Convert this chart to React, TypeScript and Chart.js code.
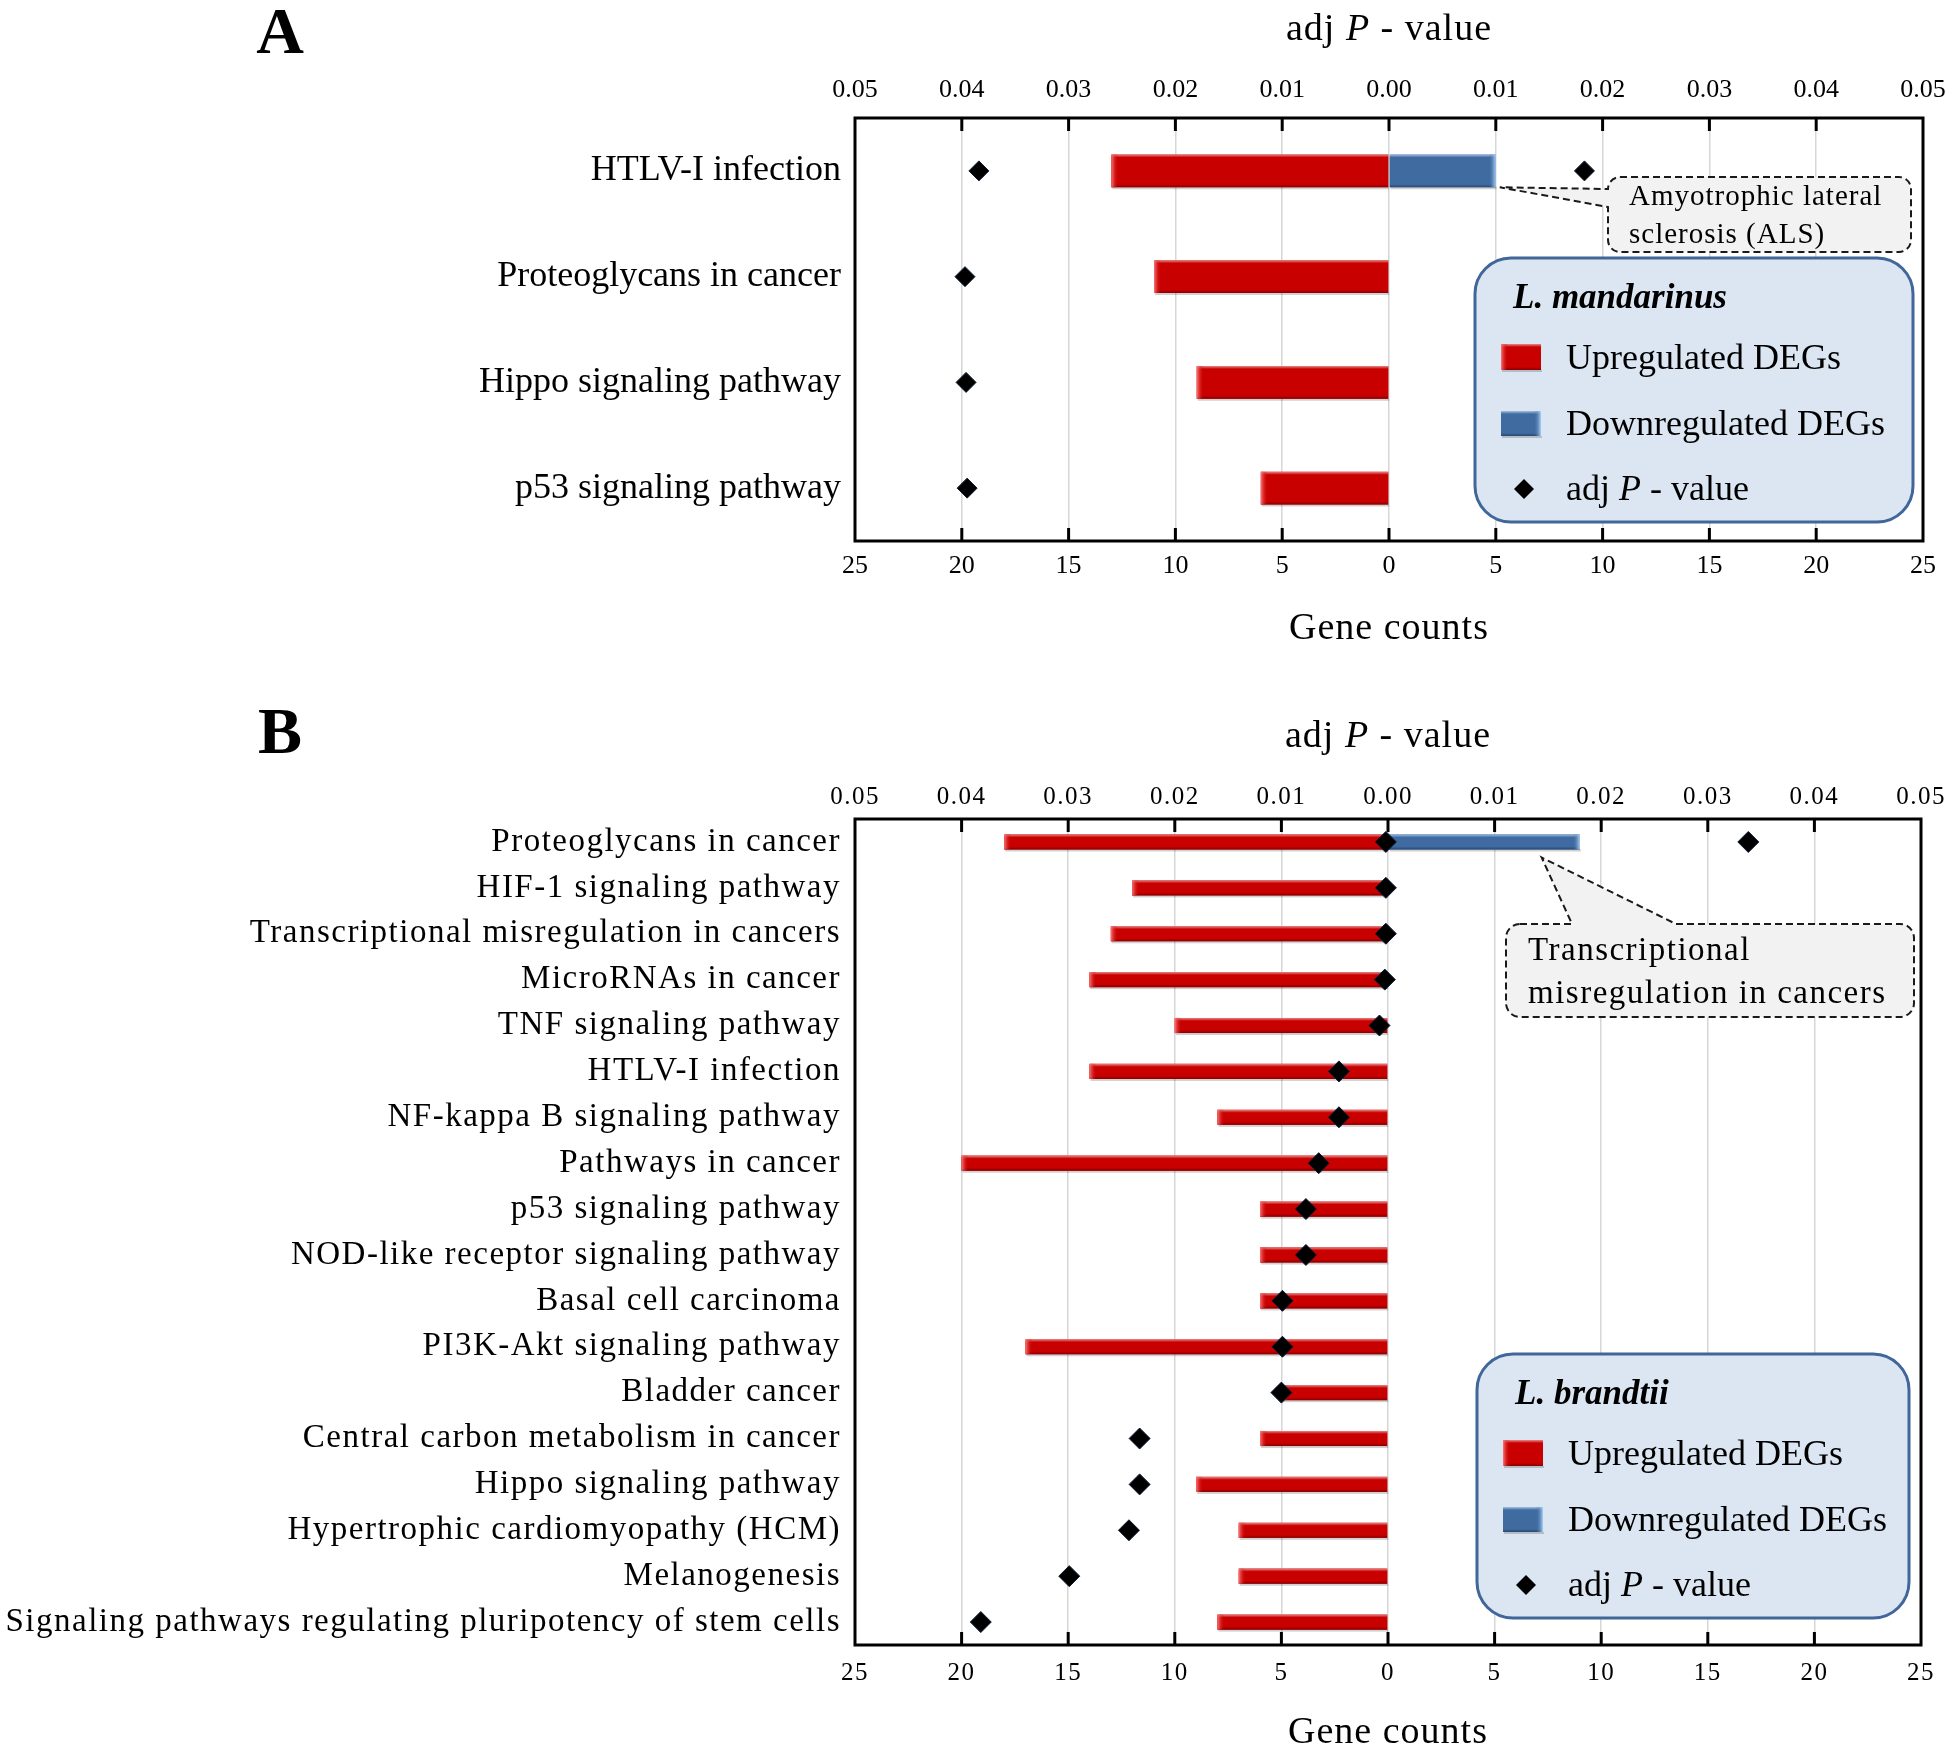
import React, { useEffect, useRef } from 'react';
import { Chart, registerables } from 'chart.js';

Chart.register(...registerables);

const FAMILY = "'Liberation Serif', 'Times New Roman', serif";
Chart.defaults.font.family = FAMILY;
Chart.defaults.color = '#000';

// ---------- Panel A : L. mandarinus ----------
const categoriesA = [
  'HTLV-I infection',
  'Proteoglycans in cancer',
  'Hippo signaling pathway',
  'p53 signaling pathway',
];
const upCountsA = [13, 11, 9, 6];
const downCountsA = [5, null, null, null];
const upAdjPA = [0.0384, 0.0397, 0.0396, 0.0395];
const downAdjPA = [0.0183, null, null, null];

// ---------- Panel B : L. brandtii ----------
const categoriesB = [
  'Proteoglycans in cancer',
  'HIF-1 signaling pathway',
  'Transcriptional misregulation in cancers',
  'MicroRNAs in cancer',
  'TNF signaling pathway',
  'HTLV-I infection',
  'NF-kappa B signaling pathway',
  'Pathways in cancer',
  'p53 signaling pathway',
  'NOD-like receptor signaling pathway',
  'Basal cell carcinoma',
  'PI3K-Akt signaling pathway',
  'Bladder cancer',
  'Central carbon metabolism in cancer',
  'Hippo signaling pathway',
  'Hypertrophic cardiomyopathy (HCM)',
  'Melanogenesis',
  'Signaling pathways regulating pluripotency of stem cells',
];
const upCountsB = [18, 12, 13, 14, 10, 14, 8, 20, 6, 6, 6, 17, 5, 6, 9, 7, 7, 8];
const downCountsB = [9, null, null, null, null, null, null, null, null, null, null, null, null, null, null, null, null, null];
const upAdjPB = [0.0002, 0.0002, 0.0002, 0.0003, 0.0008, 0.0046, 0.0046, 0.0065, 0.0077, 0.0077, 0.0099, 0.0099, 0.0100, 0.0233, 0.0233, 0.0243, 0.0299, 0.0382];
const downAdjPB = [0.0338, null, null, null, null, null, null, null, null, null, null, null, null, null, null, null, null, null];

// axis ranges
const countMax = 25;
const countStep = 5;
const pMax = 0.05;
const pStep = 0.01;

const UP_LABEL = 'Upregulated DEGs';
const DOWN_LABEL = 'Downregulated DEGs';

const PALETTE: any = {
  up: { fill: '#c90000', top: '#e88a8a', bot: '#860000', end: 'rgba(255,125,125,0.95)', endFade: 'rgba(201,0,0,0)', side: 'left' },
  down: { fill: '#3f6ba1', top: '#a3c0e2', bot: '#28476f', end: 'rgba(180,215,252,0.95)', endFade: 'rgba(63,107,161,0)', side: 'right' },
};

function bar3D(ctx: any, l: number, t: number, w: number, h: number, pal: any) {
  if (!(w > 0) || !(h > 0)) return;
  ctx.save();
  ctx.fillStyle = 'rgba(0,0,0,0.18)';
  ctx.fillRect(l + 1, t + h, w, 2);
  const g = ctx.createLinearGradient(0, t, 0, t + h);
  const e = Math.min(0.45, 3 / h);
  g.addColorStop(0, pal.top);
  g.addColorStop(e, pal.fill);
  g.addColorStop(1 - e, pal.fill);
  g.addColorStop(1, pal.bot);
  ctx.fillStyle = g;
  ctx.fillRect(l, t, w, h);
  const bw = Math.min(7, w / 3);
  const x0 = pal.side === 'left' ? l : l + w;
  const x1 = pal.side === 'left' ? l + bw : l + w - bw;
  const g2 = ctx.createLinearGradient(x0, 0, x1, 0);
  g2.addColorStop(0, pal.end);
  g2.addColorStop(1, pal.endFade);
  ctx.fillStyle = g2;
  ctx.fillRect(Math.min(x0, x1), t, bw, h);
  ctx.restore();
}

function txt(ctx: any, s: string, x: number, y: number, font: string, align = 'left', spacing = '0px') {
  ctx.save();
  ctx.font = font;
  ctx.textAlign = align;
  ctx.textBaseline = 'alphabetic';
  ctx.fillStyle = '#000';
  ctx.letterSpacing = spacing;
  ctx.fillText(s, x, y);
  ctx.restore();
}

function mixed(ctx: any, parts: [string, boolean][], x: number, y: number, size: number, align: string, spacing: string) {
  ctx.save();
  ctx.letterSpacing = spacing;
  ctx.textAlign = 'left';
  ctx.textBaseline = 'alphabetic';
  ctx.fillStyle = '#000';
  const fonts = parts.map(([, it]) => `${it ? 'italic ' : ''}${size}px ${FAMILY}`);
  const widths = parts.map(([s], i) => {
    ctx.font = fonts[i];
    return ctx.measureText(s).width;
  });
  const total = widths.reduce((a, b) => a + b, 0);
  let cx = align === 'center' ? x - total / 2 : x;
  parts.forEach(([s], i) => {
    ctx.font = fonts[i];
    ctx.fillText(s, cx, y);
    cx += widths[i];
  });
  ctx.restore();
}

function drawDiamond(ctx: any, x: number, y: number, r: number) {
  ctx.save();
  ctx.beginPath();
  ctx.moveTo(x - r, y);
  ctx.lineTo(x, y - r);
  ctx.lineTo(x + r, y);
  ctx.lineTo(x, y + r);
  ctx.closePath();
  ctx.fillStyle = '#000';
  ctx.fill();
  ctx.restore();
}

function roundRectPath(ctx: any, l: number, t: number, r: number, b: number, rad: number) {
  ctx.beginPath();
  ctx.moveTo(l + rad, t);
  ctx.lineTo(r - rad, t);
  ctx.arcTo(r, t, r, t + rad, rad);
  ctx.lineTo(r, b - rad);
  ctx.arcTo(r, b, r - rad, b, rad);
  ctx.lineTo(l + rad, b);
  ctx.arcTo(l, b, l, b - rad, rad);
  ctx.lineTo(l, t + rad);
  ctx.arcTo(l, t, l + rad, t, rad);
  ctx.closePath();
}

function calloutPath(ctx: any, c: any, tip: { x: number; y: number }) {
  const [l, t, r, b] = c.box;
  const rad = c.radius;
  ctx.beginPath();
  ctx.moveTo(l + rad, t);
  if (c.side === 'top') {
    ctx.lineTo(c.base[0], t);
    ctx.lineTo(tip.x, tip.y);
    ctx.lineTo(c.base[1], t);
  }
  ctx.lineTo(r - rad, t);
  ctx.arcTo(r, t, r, t + rad, rad);
  ctx.lineTo(r, b - rad);
  ctx.arcTo(r, b, r - rad, b, rad);
  ctx.lineTo(l + rad, b);
  ctx.arcTo(l, b, l, b - rad, rad);
  if (c.side === 'left') {
    ctx.lineTo(l, c.base[1]);
    ctx.lineTo(tip.x, tip.y);
    ctx.lineTo(l, c.base[0]);
  }
  ctx.lineTo(l, t + rad);
  ctx.arcTo(l, t, l + rad, t, rad);
  ctx.closePath();
}

function drawLegend(ctx: any, L: any) {
  const { l, t, r, b } = L;
  ctx.save();
  roundRectPath(ctx, l, t, r, b, 36);
  ctx.fillStyle = '#dce6f2';
  ctx.fill();
  ctx.lineWidth = 3;
  ctx.strokeStyle = '#41679a';
  ctx.stroke();
  ctx.restore();
  txt(ctx, L.title, l + 38, t + 50, `italic bold 35px ${FAMILY}`);
  bar3D(ctx, l + 26, t + 86, 40, 26, PALETTE.up);
  txt(ctx, UP_LABEL, l + 91, t + 111, `36px ${FAMILY}`);
  bar3D(ctx, l + 26, t + 153, 40, 25, PALETTE.down);
  txt(ctx, DOWN_LABEL, l + 91, t + 177, `36px ${FAMILY}`);
  drawDiamond(ctx, l + 49, t + 231, 10);
  mixed(ctx, [['adj ', false], ['P', true], [' - value', false]], l + 91, t + 242, 36, 'left', '0px');
}

type Spec = any;

const specA: Spec = {
  key: 'A',
  letter: 'A',
  categories: categoriesA,
  up: upCountsA,
  down: downCountsA,
  pUp: upAdjPA,
  pDown: downAdjPA,
  top: 0,
  height: 680,
  areaTop: 118,
  areaBottom: 541,
  areaRight: 1923,
  labelSize: 36,
  labelSpacing: '0px',
  tickSize: 26,
  padTop: 12,
  padBottom: 10,
  barPct: 0.31,
  diamond: 10,
  letterBaseline: 53,
  titleBaseline: 40,
  geneBaseline: 639,
  legend: { l: 1475, t: 258, r: 1913, b: 522, title: 'L. mandarinus' },
  callout: {
    box: [1608, 177, 1911, 252],
    radius: 12,
    side: 'left',
    base: [189, 207],
    tipFrac: 1,
    tipDx: 4,
    tipDy: 0,
    lines: ['Amyotrophic lateral', 'sclerosis (ALS)'],
    textX: 1629,
    baselines: [205, 243],
    size: 29,
    spacing: '1px',
  },
};

const specB: Spec = {
  key: 'B',
  letter: 'B',
  categories: categoriesB,
  up: upCountsB,
  down: downCountsB,
  pUp: upAdjPB,
  pDown: downAdjPB,
  top: 680,
  height: 1072,
  areaTop: 139,
  areaBottom: 965,
  areaRight: 1921,
  labelSize: 33,
  labelSpacing: '1.5px',
  tickSize: 25,
  padTop: 7,
  padBottom: 13,
  barPct: 0.33,
  diamond: 10.5,
  letterBaseline: 73,
  titleBaseline: 67,
  geneBaseline: 1063,
  legend: { l: 1477, t: 674, r: 1909, b: 938, title: 'L. brandtii' },
  callout: {
    box: [1506, 244, 1914, 337],
    radius: 14,
    side: 'top',
    base: [1572, 1676],
    tipFrac: 0.8,
    tipDx: 0,
    tipDy: 8,
    lines: ['Transcriptional', 'misregulation in cancers'],
    textX: 1528,
    baselines: [280, 323],
    size: 33,
    spacing: '1.5px',
  },
};

function decorPlugin(spec: Spec) {
  return {
    id: 'decor' + spec.key,
    beforeDraw(chart: any) {
      chart.ctx.letterSpacing = spec.labelSpacing;
    },
    afterDatasetDraw(chart: any, args: any) {
      const meta = args.meta;
      if (meta.type !== 'bar') return;
      const ds = chart.data.datasets[args.index];
      const pal = ds.label === UP_LABEL ? PALETTE.up : PALETTE.down;
      const ctx = chart.ctx;
      meta.data.forEach((el: any) => {
        const p = el.getProps(['x', 'y', 'base', 'height'], true);
        if (!isFinite(p.x) || !isFinite(p.base)) return;
        const l = Math.min(p.x, p.base);
        const w = Math.abs(p.x - p.base);
        bar3D(ctx, l, p.y - p.height / 2, w, p.height, pal);
      });
    },
    afterDraw(chart: any) {
      const ctx = chart.ctx;
      ctx.letterSpacing = '0px';
      const xs = chart.scales.x;
      const xt = chart.scales.x2;
      const { left, right, top, bottom } = chart.chartArea;

      // frame and inward tick marks
      ctx.save();
      ctx.strokeStyle = '#000';
      ctx.lineWidth = 3;
      xs.ticks.forEach((tk: any) => {
        if (Math.abs(tk.value) > countMax - 0.01) return;
        const px = xs.getPixelForValue(tk.value);
        ctx.beginPath();
        ctx.moveTo(px, bottom);
        ctx.lineTo(px, bottom - 13);
        ctx.stroke();
      });
      xt.ticks.forEach((tk: any) => {
        if (Math.abs(tk.value) > pMax - 0.0001) return;
        const px = xt.getPixelForValue(tk.value);
        ctx.beginPath();
        ctx.moveTo(px, top);
        ctx.lineTo(px, top + 13);
        ctx.stroke();
      });
      ctx.strokeRect(left, top, right - left, bottom - top);
      ctx.restore();

      // panel letter and axis titles
      const cx = xs.getPixelForValue(0);
      txt(ctx, spec.letter, 280, spec.letterBaseline, `bold 66px ${FAMILY}`, 'center');
      mixed(ctx, [['adj ', false], ['P', true], [' - value', false]], cx, spec.titleBaseline, 38, 'center', '1px');
      txt(ctx, 'Gene counts', cx, spec.geneBaseline, `38px ${FAMILY}`, 'center', '1px');

      // callout pointing at the downregulated bar
      const c = spec.callout;
      const downIdx = chart.data.datasets.findIndex((d: any) => d.label === DOWN_LABEL);
      const el = chart.getDatasetMeta(downIdx).data[0];
      if (el) {
        const p = el.getProps(['x', 'y', 'base', 'height'], true);
        const tip = {
          x: p.base + (p.x - p.base) * c.tipFrac + c.tipDx,
          y: p.y + p.height / 2 + c.tipDy,
        };
        ctx.save();
        calloutPath(ctx, c, tip);
        ctx.fillStyle = '#f2f2f2';
        ctx.fill();
        ctx.setLineDash([7, 4]);
        ctx.lineWidth = 2;
        ctx.strokeStyle = '#1a1a1a';
        ctx.stroke();
        ctx.restore();
        c.lines.forEach((line: string, i: number) => {
          txt(ctx, line, c.textX, c.baselines[i], `${c.size}px ${FAMILY}`, 'left', c.spacing);
        });
      }

      drawLegend(ctx, spec.legend);
    },
  };
}

function makeConfig(spec: Spec): any {
  const W = 1946;
  const noSidePad = (s: any) => {
    s.paddingLeft = 0;
    s.paddingRight = 0;
  };
  return {
    type: 'bar',
    data: {
      labels: spec.categories,
      datasets: [
        {
          type: 'line',
          label: 'adj P - value',
          data: spec.pUp.map((v: number | null) => (v == null ? null : -v)),
          xAxisID: 'x2',
          yAxisID: 'y',
          indexAxis: 'y',
          showLine: false,
          pointStyle: 'rectRot',
          pointRadius: spec.diamond,
          pointBackgroundColor: '#000',
          pointBorderColor: '#0d1b33',
          pointBorderWidth: 1,
          order: 0,
        },
        {
          type: 'line',
          label: 'adj P - value (down)',
          data: spec.pDown,
          xAxisID: 'x2',
          yAxisID: 'y',
          indexAxis: 'y',
          showLine: false,
          pointStyle: 'rectRot',
          pointRadius: spec.diamond,
          pointBackgroundColor: '#000',
          pointBorderColor: '#0d1b33',
          pointBorderWidth: 1,
          order: 0,
        },
        {
          type: 'bar',
          label: UP_LABEL,
          data: spec.up.map((v: number) => -v),
          backgroundColor: PALETTE.up.fill,
          borderWidth: 0,
          xAxisID: 'x',
          yAxisID: 'y',
          grouped: false,
          barPercentage: spec.barPct,
          categoryPercentage: 1,
          order: 2,
        },
        {
          type: 'bar',
          label: DOWN_LABEL,
          data: spec.down,
          backgroundColor: PALETTE.down.fill,
          borderWidth: 0,
          xAxisID: 'x',
          yAxisID: 'y',
          grouped: false,
          barPercentage: spec.barPct,
          categoryPercentage: 1,
          order: 1,
        },
      ],
    },
    options: {
      indexAxis: 'y',
      animation: false,
      responsive: false,
      devicePixelRatio: 1,
      events: [],
      layout: { padding: { left: 0, right: W - spec.areaRight, top: 0, bottom: 0 } },
      plugins: { legend: { display: false }, tooltip: { enabled: false } },
      scales: {
        x: {
          type: 'linear',
          position: 'bottom',
          min: -countMax,
          max: countMax,
          ticks: {
            stepSize: countStep,
            callback: (v: number) => String(Math.abs(v)),
            font: { size: spec.tickSize },
            color: '#000',
            padding: spec.padBottom,
            maxRotation: 0,
            autoSkip: false,
          },
          grid: { color: '#d6d6d6', lineWidth: 1.5, drawTicks: false },
          border: { display: false },
          afterFit: (s: any) => {
            s.height = spec.height - spec.areaBottom;
            noSidePad(s);
          },
        },
        x2: {
          type: 'linear',
          position: 'top',
          min: -pMax,
          max: pMax,
          ticks: {
            stepSize: pStep,
            callback: (v: number) => Math.abs(v).toFixed(2),
            font: { size: spec.tickSize },
            color: '#000',
            padding: spec.padTop,
            maxRotation: 0,
            autoSkip: false,
          },
          grid: { display: false, drawTicks: false },
          border: { display: false },
          afterFit: (s: any) => {
            s.height = spec.areaTop;
            noSidePad(s);
          },
        },
        y: {
          type: 'category',
          position: 'left',
          ticks: {
            font: { size: spec.labelSize },
            color: '#000',
            padding: 14,
            autoSkip: false,
          },
          grid: { display: false, drawTicks: false },
          border: { display: false },
          afterFit: (s: any) => {
            s.width = 855;
          },
        },
      },
    },
    plugins: [decorPlugin(spec)],
  };
}

function Panel({ spec }: { spec: Spec }) {
  const ref = useRef<HTMLCanvasElement | null>(null);
  useEffect(() => {
    if (!ref.current) return;
    const chart = new Chart(ref.current, makeConfig(spec));
    return () => chart.destroy();
  }, [spec]);
  return (
    <canvas
      ref={ref}
      width={1946}
      height={spec.height}
      style={{ position: 'absolute', left: 0, top: spec.top, width: 1946, height: spec.height, display: 'block' }}
    />
  );
}

export default function App() {
  return (
    <div style={{ position: 'absolute', left: 0, top: 0, width: 1946, height: 1752, background: '#fff', overflow: 'hidden' }}>
      <Panel spec={specA} />
      <Panel spec={specB} />
    </div>
  );
}
